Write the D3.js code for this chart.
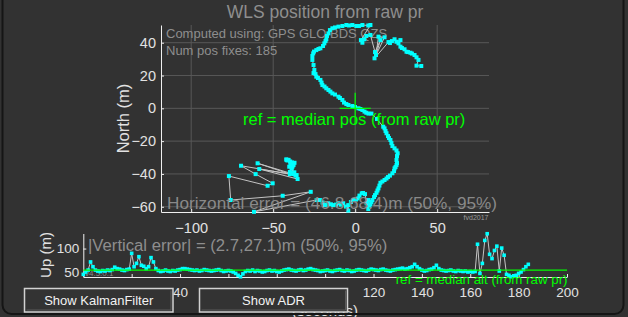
<!DOCTYPE html>
<html><head><meta charset="utf-8">
<script src="https://cdn.jsdelivr.net/npm/d3@7/dist/d3.min.js"></script>
<style>
body{margin:0;background:#323232;overflow:hidden}
svg{display:block}
text{font-family:"Liberation Sans",Arial,Helvetica,sans-serif}
</style></head>
<body><svg id="c" width="628" height="317"></svg>
<script>
// ---------- data ----------
const titleText = "WLS position from raw pr";
const eastTicks = [-100, -50, 0, 50];
const northTicks = [-60, -40, -20, 0, 20, 40];
const timeTicks = [0, 20, 40, 60, 80, 100, 120, 140, 160, 180, 200];
const upTicks = [50, 100];
const eastDomain = [-118.4, 81.6];
const northDomain = [-63.2, 50.8];
const timeDomain = [0, 200];
const upDomain = [40.5, 131.5];

const east = [40.3,37.4,38.6,37.4,36.2,34.6,33.7,32.2,31.3,30.1,28.5,27.6,26.4,27.6,25.2,24.0,22.4,21.2,20.3,
 11.8,17.9,14.2,12.7,15.4,12.1,9.3,6.8,4.4,5.6,3.5,9.3,8.0,
 4.4,2.3,0.7,-1.7,-3.8,-5.4,-7.8,-10.2,-12.3,-13.9,-15.4,-16.3,-17.2,-17.6,-18.1,-18.8,-19.6,-21.2,-22.4,-23.7,-25.1,-25.6,-26.1,-26.1,-25.4,-24.9,-25.4,-24.2,-23.7,-22.7,-21.2,-20.5,-20.0,-18.7,-17.6,-16.3,-15.1,-13.9,-12.3,-10.2,-9.3,-7.8,-6.8,-5.4,-4.1,-1.7,-0.1,2.0,3.2,4.4,5.7,6.8,8.1,9.9,
 13.3,17.1,17.9,18.5,19.1,20.0,20.6,21.5,22.1,22.7,24.0,25.2,25.9,25.5,25.2,25.5,25.2,24.6,24.0,23.7,22.7,21.2,20.0,19.1,17.9,16.6,15.4,14.8,14.2,13.6,13.0,12.1,11.5,10.5,9.9,9.3,8.7,8.0,
 8.0,7.0,6.0,4.8,4.0,2.6,1.9,0.5,-1.2,-2.6,-4.2,-4.2,-5.6,-7.3,-8.7,-10.3,-11.7,-13.4,-14.8,-16.4,-17.5,-18.4,-19.9,-21.5,-23.5,
 -61.7,-27.1,-44.2,-75.9,-77.0,-53.4,-50.3,-60.7,-69.6,-39.8,-59.5,-35.7,-58.5,-35.1,-37.3,
 -38.7,-40.2,-39.1,-37.7,-37.0,-40.8,-42.0,-41.3,-39.5,-38.2,-37.6,-39.8,-38.5,-37.1,-36.4,-38.8,-37.9,-38.5,-39.6,-40.7,-41.8];
const north = [25.8,26.0,29.5,31.1,32.5,33.4,33.9,34.3,34.5,36.0,36.8,37.6,39.6,41.6,40.6,42.1,41.0,39.8,40.4,
 30.5,43.3,43.7,32.5,41.6,34.3,44.7,44.1,40.0,42.1,41.6,50.8,50.5,
 50.8,50.2,50.2,50.8,50.5,50.8,50.2,49.8,49.3,48.8,47.7,45.7,44.1,42.1,41.0,39.6,38.0,36.6,36.2,35.5,34.6,33.5,31.9,29.5,26.4,23.4,21.5,20.9,19.3,18.5,17.3,15.7,14.2,13.3,12.2,11.2,10.2,9.1,8.4,7.1,6.3,5.1,3.5,2.6,2.0,1.4,0.8,0.0,-0.4,-1.0,-2.0,-2.7,-3.2,-3.2,
 -6.5,-11.2,-12.2,-13.8,-15.2,-16.9,-18.1,-19.3,-21.2,-23.0,-24.4,-25.7,-27.4,-29.1,-31.5,-33.4,-34.6,-35.8,-36.6,-38.2,-39.6,-41.0,-41.9,-42.8,-43.7,-44.6,-45.4,-47.1,-48.8,-50.1,-51.5,-52.9,-54.1,-55.9,-57.1,-58.4,-59.6,-61.4,
 -55.9,-57.9,-52.3,-51.6,-51.8,-53.2,-54.9,-55.6,-55.9,-57.1,-59.0,-62.3,-59.9,-57.9,-58.7,-57.9,-58.7,-59.0,-58.5,-57.9,-58.7,-59.0,-57.4,-55.9,-55.9,
 -63.1,-50.9,-53.3,-55.9,-41.3,-47.2,-45.7,-40.1,-35.0,-40.1,-33.5,-40.7,-37.0,-43.1,-40.1,
 -36.6,-35.6,-35.2,-33.5,-33.2,-31.5,-31.1,-31.8,-34.6,-35.5,-34.6,-38.8,-39.5,-39.0,-41.0,-36.1,-34.3,-33.0,-32.4,-31.4,-31.5];
const upMeters = [46,51,55,72,62,55,53,52,54,53,55,54,56,61,58,57,55,54,56,57,90,62,69,83,65,63,58,62,81,72,58,
 54,52,53,55,53,52,54,53,55,56,58,58,57,56,55,54,55,53,54,56,55,54,53,54,55,56,54,52,53,54,
 53,51,48,44,41,47,52,54,53,55,
 52,54,53,51,52,54,55,53,54,52,51,53,55,56,57,55,54,53,55,56,54,55,57,58,56,55,54,52,53,54,
 55,53,52,54,55,56,54,53,55,54,52,53,55,56,55,54,53,55,57,56,55,54,56,57,55,54,53,55,56,57,
 58,59,57,58,60,62,67,62,58,55,53,54,56,57,60,65,58,55,54,53,54,55,53,52,54,53,52,53,51,52,51,
 52,109,48,69,117,131,88,79,96,105,53,101,86,46,44,41,43,44,48,51,56,62,67];
const timeSec = upMeters.map((_, i) => i);   // one fix per second
const medianUp = 54.8;
const refPos = [0, 0];
const infoLines = ["Computed using: GPS GLO BDS QZS", "Num pos fixes: 185"];
const hErrText = "Horizontal error = (46.8,68.4)m (50%, 95%)";
const vErrText = "|Vertical error| = (2.7,27.1)m (50%, 95%)";
const buttonLabels = ["Show KalmanFilter", "Show ADR"];

// ---------- drawing ----------
const svg = d3.select("#c");
const fg = "#e2e2e2", gray = "#8e8e8e", grid = "#585858", cyan = "#00ffff", lineC = "#c4c4c4", green = "#00ff00";

const xE = d3.scaleLinear().domain(eastDomain).range([161, 489]);
const yN = d3.scaleLinear().domain(northDomain).range([212, 25]);
const xT = d3.scaleLinear().domain(timeDomain).range([83.3, 567]);
const yU = d3.scaleLinear().domain(upDomain).range([277, 233.5]);

// title
svg.append("text").attr("x", 325).attr("y", 17.5).attr("text-anchor", "middle")
  .attr("font-size", 17.5).attr("fill", gray).text(titleText);

// grid (top)
const g1 = svg.append("g");
g1.selectAll("line.gx").data(eastTicks).join("line")
  .attr("x1", d => xE(d)).attr("x2", d => xE(d)).attr("y1", 25).attr("y2", 212)
  .attr("stroke", grid).attr("stroke-width", 1);
g1.selectAll("line.gy").data(northTicks).join("line").attr("class","gy")
  .attr("y1", d => yN(d)).attr("y2", d => yN(d)).attr("x1", 161).attr("x2", 489)
  .attr("stroke", grid).attr("stroke-width", 1);

// info text
svg.selectAll("text.info").data(infoLines).join("text").attr("class","info")
  .attr("x", 166).attr("y", (d,i) => 38.3 + i*16.7).attr("font-size", 13).attr("fill", gray).text(d => d);

// axes top
function styleAxis(g, fs) {
  g.selectAll("path.domain").attr("stroke", "#f0f0f0").attr("stroke-width", 1);
  g.selectAll(".tick line").attr("stroke", "#f0f0f0");
  g.selectAll(".tick text").attr("fill", fg).attr("font-size", fs)
    .attr("font-family", '"Liberation Sans",Arial,sans-serif');
}
const axB = svg.append("g").attr("transform", "translate(0,212)")
  .call(d3.axisBottom(xE).tickValues(eastTicks).tickSize(-3).tickSizeOuter(0).tickPadding(11));
styleAxis(axB, 14.5);
const axL = svg.append("g").attr("transform", "translate(161,0)")
  .call(d3.axisLeft(yN).tickValues(northTicks).tickSize(-3).tickSizeOuter(0).tickPadding(5));
styleAxis(axL, 14.5);

svg.append("text").attr("transform", "translate(123,118.5) rotate(-90)").attr("text-anchor", "middle")
  .attr("dominant-baseline", "central").attr("font-size", 16.5).attr("fill", fg).text("North (m)");

// trajectory
const pos = east.map((e, i) => [e, north[i]]);
svg.append("path").datum(pos)
  .attr("d", d3.line().x(d => xE(d[0])).y(d => yN(d[1])))
  .attr("fill", "none").attr("stroke", lineC).attr("stroke-width", 1);
svg.selectAll("rect.pm").data(pos).join("rect").attr("class","pm")
  .attr("x", d => xE(d[0]) - 2).attr("y", d => yN(d[1]) - 2).attr("width", 4).attr("height", 4)
  .attr("fill", cyan);

// reference cross
const cr = 9.5;
svg.append("line").attr("x1", xE(refPos[0]-cr)).attr("x2", xE(refPos[0]+cr)).attr("y1", yN(refPos[1])).attr("y2", yN(refPos[1]))
  .attr("stroke", green).attr("stroke-width", 1.2);
svg.append("line").attr("x1", xE(refPos[0])).attr("x2", xE(refPos[0])).attr("y1", yN(refPos[1]-cr)).attr("y2", yN(refPos[1]+cr))
  .attr("stroke", green).attr("stroke-width", 1.2);
svg.append("text").attr("x", 243).attr("y", 124.5).attr("font-size", 16.5).attr("fill", green)
  .text("ref = median pos (from raw pr)");

svg.append("text").attr("x", 167).attr("y", 208.5).attr("font-size", 17.2).attr("fill", gray).attr("opacity", 0.95).text(hErrText);
svg.append("text").attr("x", 488.5).attr("y", 219.5).attr("text-anchor", "end").attr("font-size", 7).attr("fill", "#9a9a9a").text("fvd2017");

// ---------- bottom plot ----------
const axB2 = svg.append("g").attr("transform", "translate(0,277)")
  .call(d3.axisBottom(xT).tickValues(timeTicks).tickSize(-3).tickSizeOuter(0).tickPadding(10));
styleAxis(axB2, 13.5);
const axL2 = svg.append("g").attr("transform", "translate(83.3,0)")
  .call(d3.axisLeft(yU).tickValues(upTicks).tickSize(-3).tickSizeOuter(0).tickPadding(4));
styleAxis(axL2, 13.5);
svg.append("text").attr("transform", "translate(45,255) rotate(-90)").attr("text-anchor", "middle")
  .attr("dominant-baseline", "central").attr("font-size", 15).attr("fill", fg).text("Up (m)");

svg.append("text").attr("x", 88).attr("y", 251).attr("font-size", 16.7).attr("fill", gray).text(vErrText);
svg.append("text").attr("x", 85).attr("y", 276).attr("font-size", 8).attr("fill", "#8a8a8a").text("v4.5.0.1");

const up = upMeters.map((u, i) => [timeSec[i], u]);
svg.append("path").datum(up)
  .attr("d", d3.line().x(d => xT(d[0])).y(d => yU(d[1])))
  .attr("fill", "none").attr("stroke", lineC).attr("stroke-width", 1);
svg.selectAll("rect.um").data(up).join("rect").attr("class","um")
  .attr("x", d => xT(d[0]) - 1.8).attr("y", d => yU(d[1]) - 1.8).attr("width", 3.6).attr("height", 3.6)
  .attr("fill", cyan);
svg.append("line").attr("x1", xT(timeDomain[0])).attr("x2", xT(timeDomain[1])).attr("y1", yU(medianUp)).attr("y2", yU(medianUp))
  .attr("stroke", green).attr("stroke-width", 1.2);
svg.append("text").attr("x", 567.5).attr("y", 283.5).attr("text-anchor", "end").attr("font-size", 13.3).attr("fill", green)
  .text("ref = median alt (from raw pr)");

svg.append("text").attr("x", 325).attr("y", 316).attr("text-anchor", "middle").attr("font-size", 15).attr("fill", fg).text("(seconds)");

// buttons
const btn = [{x: 24.5, w: 148.5}, {x: 199.5, w: 148}];
btn.forEach((b, i) => {
  const g = svg.append("g");
  g.append("rect").attr("x", b.x).attr("y", 288.5).attr("width", b.w).attr("height", 23.5)
    .attr("fill", "#333333").attr("stroke", "#d2d2d2").attr("stroke-width", 1.5);
  g.append("path").attr("d", `M${b.x+2},${288.5+21.5}H${b.x+b.w-2}V${290.5}`)
    .attr("fill", "none").attr("stroke", "#5a5a5a").attr("stroke-width", 1);
  g.append("text").attr("x", b.x + b.w/2).attr("y", 305).attr("text-anchor", "middle")
    .attr("font-size", 13).attr("fill", "#f2f2f2").text(buttonLabels[i]);
});

// window border
svg.append("rect").attr("x", 2.5).attr("y", -30).attr("width", 621).attr("height", 344).attr("rx", 9)
  .attr("fill", "none").attr("stroke", "#151515").attr("stroke-width", 2);
</script></body></html>
